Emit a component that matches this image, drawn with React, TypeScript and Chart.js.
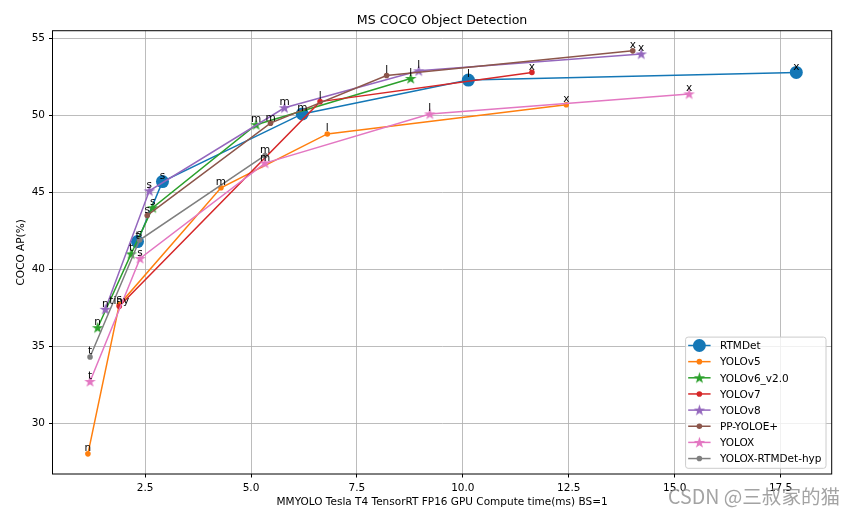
import { useEffect, useRef } from "react";
import { Chart, registerables } from "chart.js";

Chart.register(...registerables);

// ---- data ----
const xTicks = [2.5, 5, 7.5, 10, 12.5, 15, 17.5];
const yTicks = [30, 35, 40, 45, 50, 55];

const seriesNames = [
  "RTMDet",
  "YOLOv5",
  "YOLOv6_v2.0",
  "YOLOv7",
  "YOLOv8",
  "PP-YOLOE+",
  "YOLOX",
  "YOLOX-RTMDet-hyp",
];

const rtmdetTime = [2.32, 2.91, 6.21, 10.13, 17.87];
const rtmdetAP = [41.8, 45.7, 50.1, 52.3, 52.8];
const rtmdetSizes = ["t", "s", "m", "l", "x"];

const yolov5Time = [1.15, 1.89, 4.29, 6.8, 12.44];
const yolov5AP = [28.0, 37.7, 45.3, 48.8, 50.7];
const yolov5Sizes = ["n", "s", "m", "l", "x"];

const yolov6Time = [1.38, 2.17, 2.68, 5.12, 8.77];
const yolov6AP = [36.2, 41.0, 44.0, 49.4, 52.4];
const yolov6Sizes = ["n", "t", "s", "m", "l"];

const yolov7Time = [1.89, 6.63, 11.63];
const yolov7AP = [37.6, 50.9, 52.8];
const yolov7Sizes = ["tiny", "l", "x"];

const yolov8Time = [1.56, 2.6, 5.79, 8.96, 14.21];
const yolov8AP = [37.4, 45.1, 50.5, 52.9, 54.0];
const yolov8Sizes = ["n", "s", "m", "l", "x"];

const ppyoloeTime = [2.55, 5.46, 8.2, 14.01];
const ppyoloeAP = [43.5, 49.5, 52.6, 54.2];
const ppyoloeSizes = ["s", "m", "l", "x"];

const yoloxTime = [1.2, 2.38, 5.33, 9.22, 15.34];
const yoloxAP = [32.7, 40.7, 46.9, 50.1, 51.4];
const yoloxSizes = ["t", "s", "m", "l", "x"];

const yoloxHypTime = [1.2, 2.37, 5.33];
const yoloxHypAP = [34.3, 41.9, 47.4];
const yoloxHypSizes = ["t", "s", "m"];

const series = [
  { time: rtmdetTime, ap: rtmdetAP, sizes: rtmdetSizes },
  { time: yolov5Time, ap: yolov5AP, sizes: yolov5Sizes },
  { time: yolov6Time, ap: yolov6AP, sizes: yolov6Sizes },
  { time: yolov7Time, ap: yolov7AP, sizes: yolov7Sizes },
  { time: yolov8Time, ap: yolov8AP, sizes: yolov8Sizes },
  { time: ppyoloeTime, ap: ppyoloeAP, sizes: ppyoloeSizes },
  { time: yoloxTime, ap: yoloxAP, sizes: yoloxSizes },
  { time: yoloxHypTime, ap: yoloxHypAP, sizes: yoloxHypSizes },
];

// ---- styles ----
const lineColors = [
  "#1477b6",
  "#ff7f0e",
  "#2ca02c",
  "#d62728",
  "#9467bd",
  "#8c564b",
  "#e377c2",
  "#7f7f7f",
];
type Marker = "big" | "dot" | "star";
const markers: Marker[] = ["big", "dot", "star", "dot", "star", "dot", "star", "dot"];
const markerRadius: Record<Marker, number> = { big: 6.5, dot: 2.8, star: 6.1 };

const FONT = "'DejaVu Sans', sans-serif";
const FS = 10.5;

function starImage(color: string, r: number) {
  const size = Math.ceil(r * 2 + 2);
  const c = document.createElement("canvas");
  c.width = size;
  c.height = size;
  const ctx = c.getContext("2d")!;
  ctx.translate(size / 2, size / 2 + r * 0.05);
  ctx.beginPath();
  for (let k = 0; k < 10; k++) {
    const rad = k % 2 === 0 ? r : r * 0.382;
    const a = -Math.PI / 2 + (k * Math.PI) / 5;
    ctx.lineTo(rad * Math.cos(a), rad * Math.sin(a));
  }
  ctx.closePath();
  ctx.fillStyle = color;
  ctx.fill();
  return c;
}

// margins like matplotlib autoscale (5%)
function bounds(values: number[]) {
  const lo = Math.min(...values);
  const hi = Math.max(...values);
  const m = (hi - lo) * 0.05;
  return [lo - m, hi + m];
}

export default function App() {
  const ref = useRef<HTMLCanvasElement>(null);

  useEffect(() => {
    if (!ref.current) return;

    const [xMin, xMax] = bounds(series.flatMap((s) => s.time));
    const [yMin, yMax] = bounds(series.flatMap((s) => s.ap));

    Chart.defaults.font.family = FONT;
    Chart.defaults.font.size = FS;
    Chart.defaults.color = "#000";

    const datasets = series.map((s, i) => {
      const color = lineColors[i];
      const m = markers[i];
      return {
        label: seriesNames[i],
        data: s.time.map((t, j) => ({ x: t, y: s.ap[j] })),
        showLine: true,
        borderColor: color,
        backgroundColor: color,
        borderWidth: 1.5,
        pointStyle: m === "star" ? starImage(color, markerRadius.star) : "circle",
        pointRadius: markerRadius[m],
        pointBorderWidth: 0,
        pointBackgroundColor: color,
        order: -i,
      };
    });

    // size labels, frame
    const overlay = {
      id: "overlay",
      afterDatasetsDraw(chart: any) {
        const { ctx, chartArea } = chart;
        ctx.save();
        ctx.strokeStyle = "#000";
        ctx.lineWidth = 1;
        ctx.strokeRect(chartArea.left, chartArea.top, chartArea.right - chartArea.left, chartArea.bottom - chartArea.top);
        ctx.font = `${FS}px ${FONT}`;
        ctx.fillStyle = "#000";
        ctx.textAlign = "center";
        ctx.textBaseline = "alphabetic";
        series.forEach((s, i) => {
          const meta = chart.getDatasetMeta(i);
          meta.data.forEach((pt: any, j: number) => {
            ctx.fillText(s.sizes[j], pt.x, pt.y - 2.6);
          });
        });
        ctx.restore();
      },
      afterDraw(chart: any) {
        const { ctx, chartArea } = chart;
        ctx.save();
        ctx.font = `${FS}px ${FONT}`;
        const rowH = 16.15;
        const textW = Math.max(...seriesNames.map((n) => ctx.measureText(n).width));
        const w = 34.3 + textW + 4.5;
        const h = rowH * seriesNames.length + 2;
        const right = chartArea.right - 5.7;
        const bottom = chartArea.bottom - 5.7;
        const left = right - w;
        const top = bottom - h;
        ctx.beginPath();
        ctx.roundRect(left, top, w, h, 2.5);
        ctx.fillStyle = "rgba(255,255,255,0.8)";
        ctx.fill();
        ctx.strokeStyle = "#cccccc";
        ctx.lineWidth = 1;
        ctx.stroke();
        seriesNames.forEach((name, i) => {
          const cy = top + 8.4 + i * rowH;
          const color = lineColors[i];
          ctx.strokeStyle = color;
          ctx.lineWidth = 1.5;
          ctx.beginPath();
          ctx.moveTo(left + 2.6, cy);
          ctx.lineTo(left + 25, cy);
          ctx.stroke();
          const mx = left + 13.8;
          const style = datasets[i].pointStyle;
          if (typeof style === "string") {
            ctx.fillStyle = color;
            ctx.beginPath();
            ctx.arc(mx, cy, markerRadius[markers[i]], 0, Math.PI * 2);
            ctx.fill();
          } else {
            ctx.drawImage(style, mx - style.width / 2, cy - style.height / 2);
          }
          ctx.fillStyle = "#000";
          ctx.textAlign = "left";
          ctx.textBaseline = "alphabetic";
          ctx.fillText(name, left + 34.3, cy + 3.8);
        });

        // watermark
        ctx.font = "19.6px 'Noto Sans CJK SC', 'Noto Sans', sans-serif";
        ctx.fillStyle = "rgba(140,140,140,0.8)";
        ctx.textAlign = "left";
        ctx.fillText("CSDN @三叔家的猫", 668, 503.5);
        ctx.restore();
      },
    };

    const chart = new Chart(ref.current, {
      type: "scatter",
      data: { datasets } as any,
      plugins: [overlay],
      options: {
        animation: false,
        responsive: true,
        maintainAspectRatio: false,
        events: [],
        layout: { padding: { left: 0, right: 24.3, top: 0, bottom: 0 } },
        plugins: {
          legend: { display: false },
          tooltip: { enabled: false },
          title: {
            display: true,
            text: "MS COCO Object Detection",
            fullSize: false,
            color: "#000",
            font: { size: 12.6, weight: "normal", family: FONT, lineHeight: 1.2 },
            padding: { top: 13, bottom: 2.6 },
          },
        },
        scales: {
          x: {
            type: "linear",
            min: xMin,
            max: xMax,
            afterBuildTicks: (scale: any) => {
              scale.ticks = xTicks.map((v) => ({ value: v }));
            },
            afterFit: (scale: any) => {
              scale.height = 42;
            },
            border: { display: false },
            grid: {
              color: "rgba(176,176,176,0.85)",
              lineWidth: 1,
              tickColor: "#000",
              tickLength: 3.5,
            },
            ticks: {
              padding: 4.2,
              maxRotation: 0,
              color: "#000",
              callback: (v: any) => Number(v).toFixed(1),
            },
            title: {
              display: true,
              text: "MMYOLO Tesla T4 TensorRT FP16 GPU Compute time(ms) BS=1",
              color: "#000",
              font: { size: FS, lineHeight: 1.2 },
              padding: { top: 0, bottom: 7.6 },
            },
          },
          y: {
            type: "linear",
            min: yMin,
            max: yMax,
            afterBuildTicks: (scale: any) => {
              scale.ticks = yTicks.map((v) => ({ value: v }));
            },
            afterFit: (scale: any) => {
              scale.width = 52.5;
            },
            border: { display: false },
            grid: {
              color: "rgba(176,176,176,0.85)",
              lineWidth: 1,
              tickColor: "#000",
              tickLength: 3.5,
            },
            ticks: {
              padding: 4,
              color: "#000",
              callback: (v: any) => String(v),
            },
            title: {
              display: true,
              text: "COCO AP(%)",
              color: "#000",
              font: { size: FS, lineHeight: 1.2 },
              padding: { top: 15, bottom: 0 },
            },
          },
        },
      },
    });

    return () => {
      chart.destroy();
    };
  }, []);

  return (
    <div style={{ position: "fixed", left: 0, top: 0, width: 856, height: 516, background: "#fff" }}>
      <canvas ref={ref}></canvas>
    </div>
  );
}
